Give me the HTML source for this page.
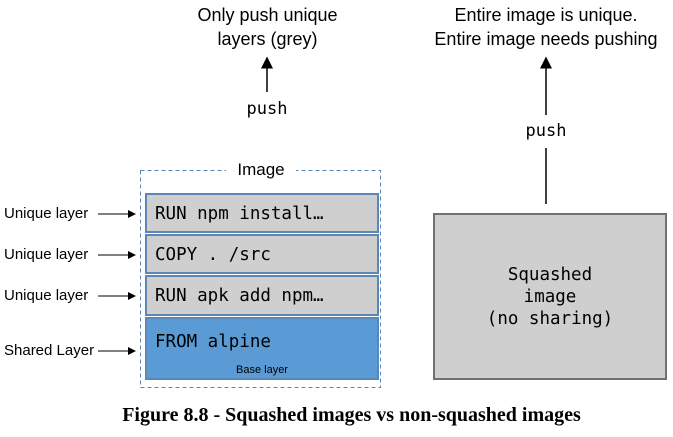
<!DOCTYPE html>
<html><head><style>
body{margin:0;width:673px;height:437px;background:#fff;position:relative;font-family:"Liberation Sans",sans-serif;overflow:hidden}
.t{position:absolute;text-align:center;color:#000}
.box{position:absolute;box-sizing:border-box;border:2px solid #5b87b8;background:#d0cfcf;font-family:"DejaVu Sans Mono","Liberation Mono",monospace;font-size:17.5px;padding-left:8px}
.lbl{position:absolute;font-size:15px;left:4px}
</style></head><body>
<div class="t" style="left:160px;top:3px;width:215px;font-size:18px;line-height:24px">Only push unique<br>layers (grey)</div>
<div class="t" style="left:410px;top:3px;width:272px;font-size:18px;line-height:24px">Entire image is unique.<br>Entire image needs pushing</div>
<div class="t" style="left:227px;top:99px;width:80px;font-family:'DejaVu Sans Mono',monospace;font-size:17px">push</div>
<div class="t" style="left:506px;top:121px;width:80px;font-family:'DejaVu Sans Mono',monospace;font-size:17px">push</div>
<svg width="673" height="437" style="position:absolute;left:0;top:0">
<defs><marker id="a" markerWidth="8" markerHeight="8" refX="7" refY="4" orient="auto"><path d="M0,0L8,4L0,8z" fill="#000"/></marker></defs>
<line x1="267" y1="92" x2="267" y2="58" stroke="#000" stroke-width="1.5" marker-end="url(#a)"/>
<line x1="546" y1="115" x2="546" y2="58" stroke="#000" stroke-width="1.5" marker-end="url(#a)"/>
<line x1="546" y1="148" x2="546" y2="204" stroke="#000" stroke-width="1.5"/>
<rect x="140.5" y="170.5" width="240" height="217" fill="none" stroke="#5b87b8" stroke-dasharray="4,3"/>
<rect x="226" y="160" width="70" height="20" fill="#fff"/>
<line x1="98" y1="214" x2="135" y2="214" stroke="#000" marker-end="url(#a)"/>
<line x1="98" y1="255" x2="135" y2="255" stroke="#000" marker-end="url(#a)"/>
<line x1="98" y1="296" x2="135" y2="296" stroke="#000" marker-end="url(#a)"/>
<line x1="98" y1="351" x2="135" y2="351" stroke="#000" marker-end="url(#a)"/>
</svg>
<div class="t" style="left:226px;top:160px;width:70px;font-size:17px">Image</div>
<div class="box" style="left:145px;top:193px;width:234px;height:40px;line-height:38px">RUN npm install…</div>
<div class="box" style="left:145px;top:234px;width:234px;height:40px;line-height:38px">COPY . /src</div>
<div class="box" style="left:145px;top:275px;width:234px;height:41px;line-height:39px">RUN apk add npm…</div>
<div class="box" style="left:145px;top:317px;width:234px;height:63px;background:#5b9bd5;padding-top:13px">FROM alpine</div>
<div class="t" style="left:145px;top:364px;width:234px;font-size:11px">Base layer</div>
<div class="lbl" style="top:205px">Unique layer</div>
<div class="lbl" style="top:246px">Unique layer</div>
<div class="lbl" style="top:287px">Unique layer</div>
<div class="lbl" style="top:342px">Shared Layer</div>
<div class="box" style="left:433px;top:213px;width:234px;height:167px;border-color:#707070;padding:0;display:flex;align-items:center;justify-content:center;text-align:center;line-height:22px">Squashed<br>image<br>(no sharing)</div>
<div class="t" style="left:15px;top:404px;width:673px;font-family:'Liberation Serif',serif;font-weight:bold;font-size:20px">Figure 8.8 - Squashed images vs non-squashed images</div>
</body></html>
